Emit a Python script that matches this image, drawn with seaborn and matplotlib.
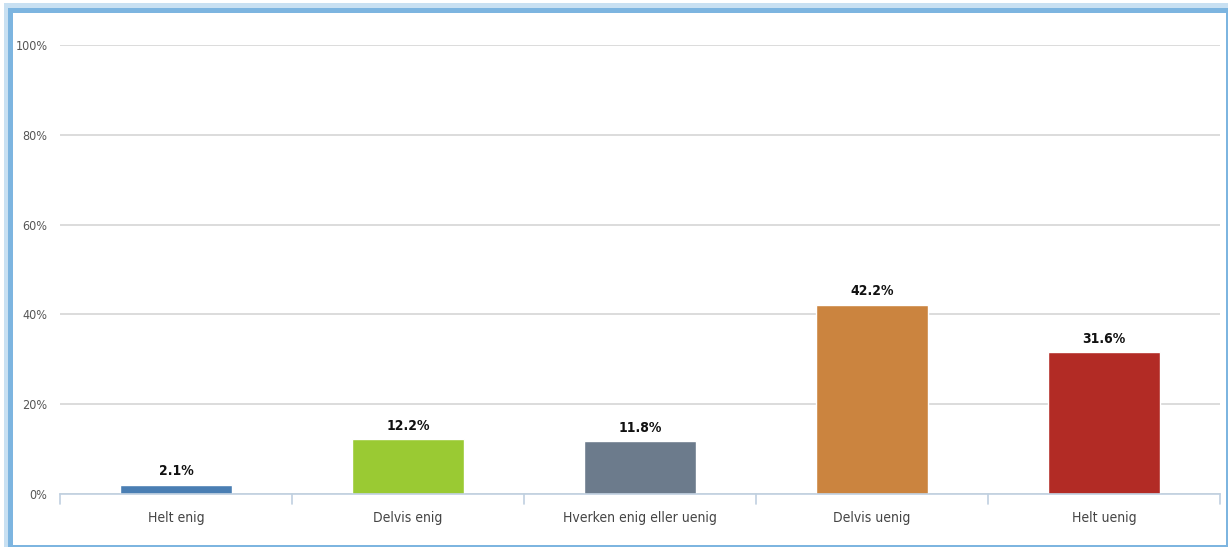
import matplotlib
matplotlib.use("Agg")
import matplotlib.pyplot as plt
import seaborn as sns
import pandas as pd
import numpy as np
from matplotlib.patches import Rectangle

categories = ["Helt enig", "Delvis enig", "Hverken enig eller uenig", "Delvis uenig", "Helt uenig"]
values = [2.1, 12.2, 11.8, 42.2, 31.6]
colors = ["#4A7EB3", "#9ACA33", "#6C7B8C", "#CB843F", "#B22B25"]
yticks = [0, 20, 40, 60, 80, 100]
ytick_labels = ["0%", "20%", "40%", "60%", "80%", "100%"]

sns.set_theme(style="white")
plt.rcParams['font.family'] = ['DejaVu Sans']
plt.rcParams['font.stretch'] = 'condensed'

df = pd.DataFrame({"cat": categories, "val": values})

W, H = 1229, 548
fig = plt.figure(figsize=(W/100, H/100), dpi=100)
ax = fig.add_axes([60/W, 1-494/H, (1220-60)/W, (494-45)/H])

sns.barplot(data=df, x="cat", y="val", hue="cat", palette=colors, order=categories,
            hue_order=categories, width=0.48, legend=False, ax=ax, saturation=1)

ax.set_ylim(0, 100)
ax.set_xlim(-0.5, len(categories) - 0.5)
ax.set_yticks(yticks)
ax.set_yticklabels(ytick_labels, color="#555555", fontsize=9, fontstretch='condensed')
for lbl in ax.get_xticklabels():
    lbl.set_fontstretch('condensed')
ax.yaxis.grid(True, color="#DCDCDC", linewidth=1.4)
ax.set_axisbelow(True)
ax.tick_params(axis="y", length=0, pad=9)
ax.tick_params(axis="x", length=0, pad=12, labelsize=10, labelcolor="#444444")
ax.set_xlabel("")
ax.set_ylabel("")
for s in ["top", "right", "left"]:
    ax.spines[s].set_visible(False)
ax.spines["bottom"].set_color("#C0D0E0")
ax.spines["bottom"].set_linewidth(1.2)

# category boundary ticks
for b in np.arange(-0.5, len(categories), 1.0):
    ax.plot([b, b], [0, -2.3], color="#C0D0E0", linewidth=1.2, clip_on=False)

for i, v in enumerate(values):
    ax.text(i, v + 1.4, f"{v:.1f}%", ha="center", va="bottom", fontsize=10,
            fontweight="bold", color="#111111", fontstretch='condensed')

# frame border
def frect(x0, y0, x1, y1, color):
    fig.patches.append(Rectangle((x0/W, 1 - y1/H), (x1-x0)/W, (y1-y0)/H,
                                 transform=fig.transFigure, facecolor=color,
                                 edgecolor="none"))

frect(1226, 8, 1228, 547, "#7DB5E0")   # right
frect(8, 545, 1228, 547, "#7DB5E0")    # bottom
frect(4, 6, 8, 547, "#C8E0F2")         # left outer glow
frect(8, 8, 13, 547, "#7DB5E0")        # left
frect(4, 3, 1228, 8, "#C8E0F2")        # top glow
frect(8, 8, 1228, 13, "#7DB5E0")       # top

fig.savefig("out.png", dpi=100)
